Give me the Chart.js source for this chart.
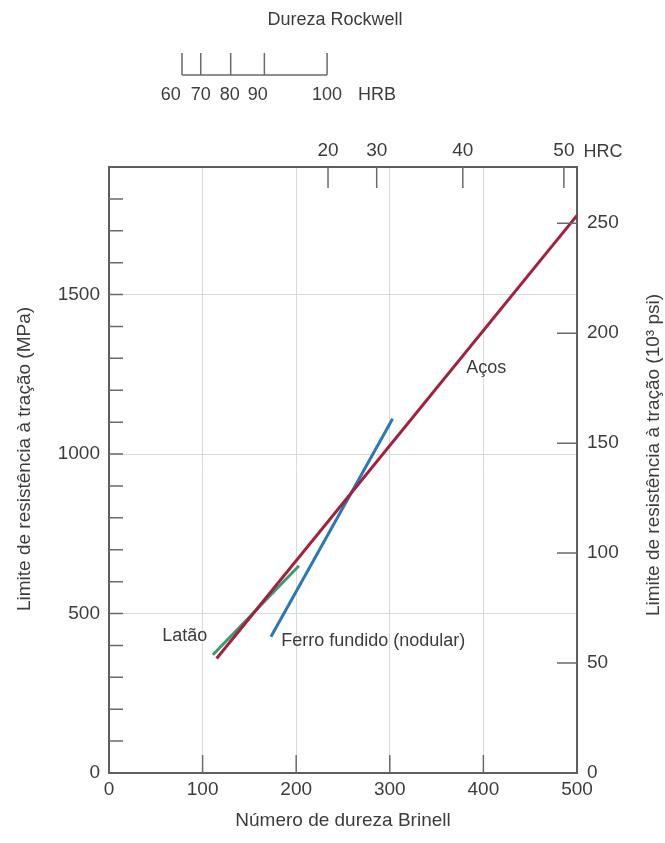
<!DOCTYPE html>
<html>
<head>
<meta charset="utf-8">
<script src="https://cdn.jsdelivr.net/npm/chart.js@4"></script>
<style>
  html, body { margin: 0; padding: 0; background: #fff; }
</style>
</head>
<body>
<canvas id="graficoDureza" width="665" height="843"></canvas>
<script>
// Curvas: número de dureza Brinell x limite de resistência (MPa)
const acosBrinell = [115, 500];
const acosMPa = [359, 1748];
const ferroBrinell = [173, 303];
const ferroMPa = [427, 1111];
const lataoBrinell = [111, 203];
const lataoMPa = [371, 650];

// Escalas
const brinellTicks = [0, 100, 200, 300, 400, 500];
const mpaTicks = [0, 500, 1000, 1500];
const ksiTicks = [0, 50, 100, 150, 200, 250];
const hrcLabels = ['20', '30', '40', '50'];
const hrcBrinell = [234, 286, 378, 486];
const hrbLabels = ['60', '70', '80', '90', '100'];
const hrbBrinell = [78, 98, 130, 166, 233];
const hrbLabelBrinell = [66, 98, 129, 159, 233];

// Rótulos das curvas (posição em Brinell / MPa)
const rotulos = ['Aços', 'Latão', 'Ferro fundido (nodular)'];
const rotulosBrinell = [403, 81, 184];
const rotulosMPa = [1271, 428, 413];

const yMax = 1900;
const passoMenorMPa = 100;
const MPA_POR_KSI = 6.895;

const fonte = "'Liberation Sans', Arial, Helvetica, sans-serif";
const corTexto = '#3c3c3c';
const corEixo = '#5e5e5e';
const corMarca = '#6a6a6a';
const corGrade = '#dadada';

function serie(xs, ys) {
    return xs.map((v, i) => ({ x: v, y: ys[i] }));
}

const marcasInternas = {
    id: 'marcasInternas',
    afterDatasetsDraw(chart) {
        const { ctx, chartArea: a, scales } = chart;
        const { x, y, y2 } = scales;
        ctx.save();
        ctx.strokeStyle = corMarca;
        ctx.lineWidth = 1.5;
        ctx.beginPath();
        // marcas do eixo MPa (a cada 100)
        for (let v = passoMenorMPa; v < yMax; v += passoMenorMPa) {
            const py = y.getPixelForValue(v);
            ctx.moveTo(a.left, py);
            ctx.lineTo(a.left + 14, py);
        }
        // marcas do eixo em 10^3 psi
        ksiTicks.slice(1).forEach(v => {
            const py = y2.getPixelForValue(v);
            ctx.moveTo(a.right, py);
            ctx.lineTo(a.right - 20, py);
        });
        // marcas do eixo Brinell
        brinellTicks.slice(1, -1).forEach(v => {
            const px = x.getPixelForValue(v);
            ctx.moveTo(px, a.bottom);
            ctx.lineTo(px, a.bottom - 18);
        });
        // marcas HRC
        hrcBrinell.forEach(v => {
            const px = x.getPixelForValue(v);
            ctx.moveTo(px, a.top);
            ctx.lineTo(px, a.top + 21);
        });
        ctx.stroke();

        // escala HRB separada, acima do gráfico
        const yBase = 75, yTopo = 53;
        ctx.beginPath();
        ctx.moveTo(x.getPixelForValue(hrbBrinell[0]), yBase);
        ctx.lineTo(x.getPixelForValue(hrbBrinell[hrbBrinell.length - 1]), yBase);
        hrbBrinell.forEach(v => {
            const px = x.getPixelForValue(v);
            ctx.moveTo(px, yBase);
            ctx.lineTo(px, yTopo);
        });
        ctx.stroke();

        ctx.fillStyle = corTexto;
        ctx.textAlign = 'center';
        ctx.textBaseline = 'middle';
        ctx.font = '18px ' + fonte;
        ctx.fillText('Dureza Rockwell', 335, 20);
        hrbLabels.forEach((t, i) => ctx.fillText(t, x.getPixelForValue(hrbLabelBrinell[i]), 95));
        ctx.fillText('HRB', 377, 95);
        ctx.fillText('HRC', 603, 152);

        // rótulos das curvas
        rotulos.forEach((t, i) => {
            ctx.textAlign = i === 2 ? 'left' : 'center';
            ctx.fillText(t, x.getPixelForValue(rotulosBrinell[i]), y.getPixelForValue(rotulosMPa[i]));
        });

        // títulos dos eixos verticais (lidos de baixo para cima)
        ctx.font = '19px ' + fonte;
        ctx.textAlign = 'center';
        ctx.save();
        ctx.translate(25, 459);
        ctx.rotate(-Math.PI / 2);
        ctx.fillText('Limite de resistência à tração (MPa)', 0, 0);
        ctx.restore();
        ctx.translate(654, 455);
        ctx.rotate(-Math.PI / 2);
        ctx.fillText('Limite de resistência à tração (10³ psi)', 0, 0);
        ctx.restore();
    }
};

const ctx = document.getElementById('graficoDureza').getContext('2d');

const chart = new Chart(ctx, {
    type: 'scatter',
    data: {
        datasets: [
            {
                label: 'Aços',
                data: serie(acosBrinell, acosMPa),
                borderColor: '#a0223f',
                borderWidth: 3,
                showLine: true,
                pointRadius: 0
            },
            {
                label: 'Ferro fundido (nodular)',
                data: serie(ferroBrinell, ferroMPa),
                borderColor: '#2a78b5',
                borderWidth: 3,
                showLine: true,
                pointRadius: 0
            },
            {
                label: 'Latão',
                data: serie(lataoBrinell, lataoMPa),
                borderColor: '#3e9a70',
                borderWidth: 3,
                showLine: true,
                pointRadius: 0
            }
        ]
    },
    options: {
        responsive: false,
        animation: false,
        layout: { padding: 0 },
        plugins: {
            legend: { display: false },
            tooltip: { enabled: false }
        },
        scales: {
            x: {
                type: 'linear',
                position: 'bottom',
                min: 0,
                max: 500,
                afterBuildTicks: s => { s.ticks = brinellTicks.map(v => ({ value: v })); },
                afterFit: s => { s.height = 70; },
                grid: {
                    color: c => (c.tick && (c.tick.value === 0 || c.tick.value === 500)) ? 'rgba(0,0,0,0)' : corGrade,
                    drawTicks: false
                },
                border: { color: corEixo, width: 2 },
                ticks: { color: corTexto, font: { family: fonte, size: 19 }, padding: 5, maxRotation: 0, callback: v => String(v) },
                title: {
                    display: true,
                    text: 'Número de dureza Brinell',
                    color: corTexto,
                    font: { family: fonte, size: 19 },
                    padding: { top: 0, bottom: 11 }
                }
            },
            x2: {
                type: 'linear',
                position: 'top',
                min: 0,
                max: 500,
                afterBuildTicks: s => { s.ticks = hrcBrinell.map(v => ({ value: v })); },
                afterFit: s => { s.height = 167; },
                grid: { display: false, drawTicks: false },
                border: { color: corEixo, width: 2 },
                ticks: {
                    color: corTexto,
                    font: { family: fonte, size: 19 },
                    padding: 5,
                    maxRotation: 0,
                    callback: (v, i) => hrcLabels[i]
                }
            },
            y: {
                type: 'linear',
                position: 'left',
                min: 0,
                max: yMax,
                afterBuildTicks: s => { s.ticks = mpaTicks.map(v => ({ value: v })); },
                afterFit: s => { s.width = 109; },
                grid: {
                    color: c => (c.tick && c.tick.value === 0) ? 'rgba(0,0,0,0)' : corGrade,
                    drawTicks: false
                },
                border: { color: corEixo, width: 2 },
                ticks: { color: corTexto, font: { family: fonte, size: 19 }, padding: 9, callback: v => String(v) }
            },
            y2: {
                type: 'linear',
                position: 'right',
                min: 0,
                max: yMax / MPA_POR_KSI,
                afterBuildTicks: s => { s.ticks = ksiTicks.map(v => ({ value: v })); },
                afterFit: s => { s.width = 88; },
                grid: { display: false, drawTicks: false },
                border: { color: corEixo, width: 2 },
                ticks: { color: corTexto, font: { family: fonte, size: 19 }, padding: 10, callback: v => String(v) }
            }
        }
    },
    plugins: [marcasInternas]
});
</script>
</body>
</html>
